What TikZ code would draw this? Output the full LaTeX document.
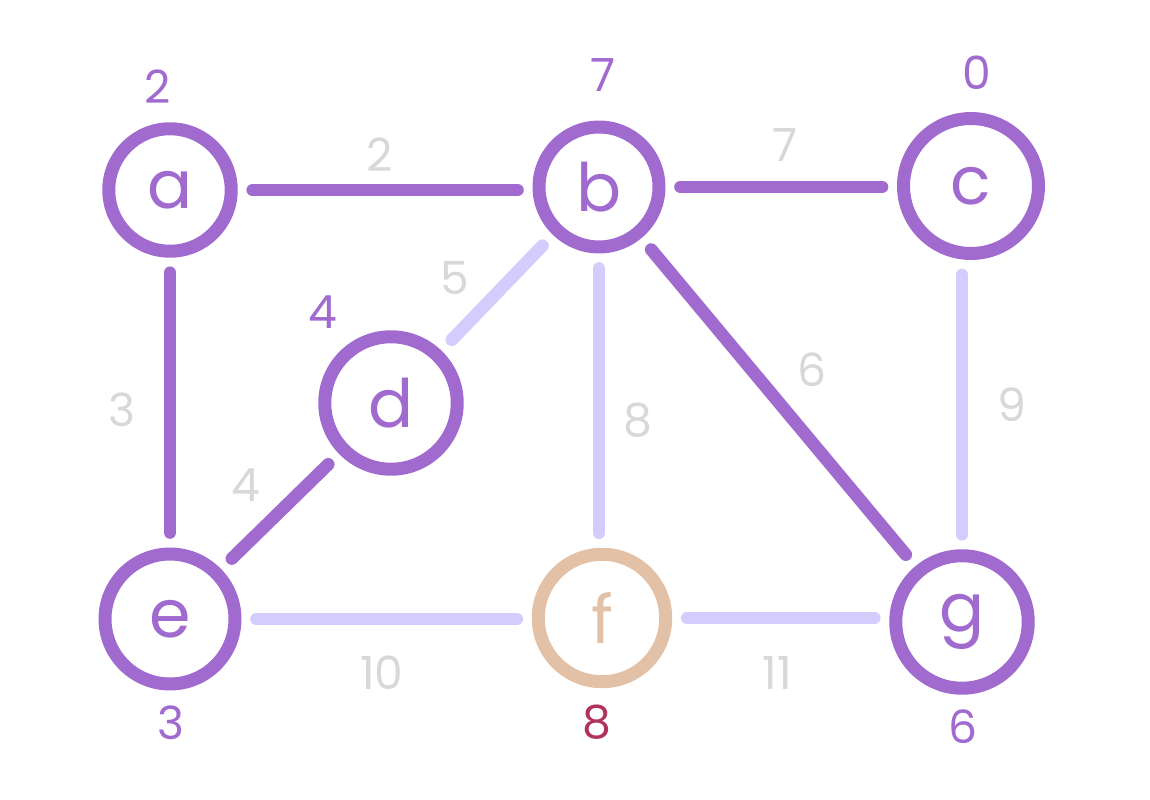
\documentclass[tikz,border=0pt]{standalone}
\usepackage{fontspec}
\setmainfont{Poppins}
\definecolor{vpurple}{HTML}{A06ACF}
\definecolor{vlav}{HTML}{D3CCFC}
\definecolor{vpeach}{HTML}{E3C1A6}
\definecolor{vred}{HTML}{B0325F}
\definecolor{vgray}{HTML}{D8D8D8}
\begin{document}
\begin{tikzpicture}[x=0.02cm,y=-0.02cm,
  vtx/.style={circle,draw=vpurple,line width=7.4pt,inner sep=0pt,text=vpurple,
    font=\fontsize{38}{38}\selectfont},
  hit/.style={vtx,draw=vpeach,text=vpeach},
  dist/.style={text=vpurple,font=\fontsize{26}{26}\selectfont,inner sep=0pt},
  distred/.style={dist,text=vred},
  wt/.style={text=vgray,font=\fontsize{26}{26}\selectfont,inner sep=0pt},
  tree/.style={draw=vpurple,line width=7.2pt,line cap=round,shorten <=0.3cm,shorten >=0.3cm},
  other/.style={draw=vlav,line width=7.2pt,line cap=round,shorten <=0.3cm,shorten >=0.3cm}]
\useasboundingbox (0,0) rectangle (1150,800);
% vertices
\node[vtx,minimum size=2.45cm] (a) at (170,190) {a};
\node[vtx,minimum size=2.4cm]  (b) at (599,187) {b};
\node[vtx,minimum size=2.7cm]  (c) at (971,186) {c};
\node[vtx,minimum size=2.65cm] (d) at (391,403) {d};
\node[vtx,minimum size=2.6cm]  (e) at (170,619) {e};
\node[hit,minimum size=2.55cm] (f) at (602,618) {f};
\node[vtx,minimum size=2.65cm] (g) at (962,622) {g};
% distances
\node[dist] (da) at (158,87) {2};
\node[dist] (db) at (603,75) {7};
\node[dist] (dc) at (977,73) {0};
\node[dist] (dd) at (323,312) {4};
\node[dist] (de) at (171,723) {3};
\node[distred] (df) at (597,722) {8};
\node[dist] (dg) at (963,727) {6};
% edges
\draw[tree]  (a.east) -- (a.east -| b.west);
\draw[tree]  (b.east) -- (b.east -| c.west);
\draw[tree]  (a.south) -- (a.south |- e.north);
\draw[other] (b) -- (d);
\draw[tree]  (d) -- (e);
\draw[other] (b.south) -- (b.south |- f.north);
\draw[tree]  (b) -- (g);
\draw[other] (c.south -| g) -- (g.north);
\draw[other] (e.east) -- (e.east -| f.west);
\draw[other] (f.east) -- (f.east -| g.west);
% weights
\node[wt] (wab) at (380,155) {2};
\node[wt] (wbc) at (785,145) {7};
\node[wt] (wae) at (122,410) {3};
\node[wt] (wbd) at (455,278) {5};
\node[wt] (wde) at (246,485) {4};
\node[wt] (wbf) at (638,420) {8};
\node[wt] (wbg) at (812,370) {6};
\node[wt] (wcg) at (1012,405) {9};
\node[wt] (wef) at (382,673) {10};
\node[wt] (wfg) at (777,673) {11};
\end{tikzpicture}
\end{document}
